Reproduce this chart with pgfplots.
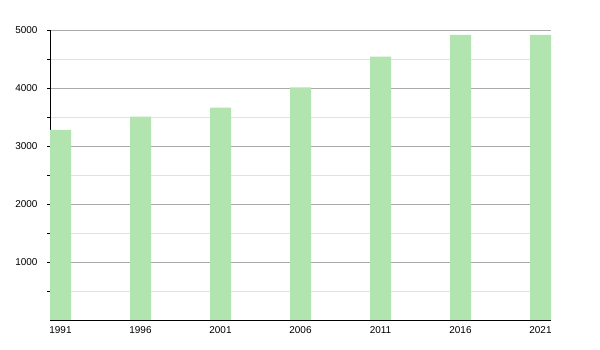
\documentclass[border=0pt]{standalone}
\usepackage{fontspec}
\setmainfont{Liberation Sans}
\usepackage{pgfplots}
\pgfplotsset{compat=1.18}
\definecolor{bargreen}{RGB}{178,228,176}
\definecolor{majgrid}{RGB}{170,170,170}
\definecolor{mingrid}{RGB}{226,226,226}
\begin{document}
\begin{tikzpicture}
\path[use as bounding box] (0,0) rectangle (600bp,350bp);
\begin{axis}[
  at={(50bp,30bp)}, anchor=south west,
  scale only axis, width=501bp, height=290bp,
  xmin=-0.13125, xmax=6.13125, ymin=0, ymax=5000,
  axis x line=bottom, axis y line=left,
  axis line style={-, black, line width=0.9bp},
  xtick={0,1,2,3,4,5,6},
  xticklabels={1991,1996,2001,2006,2011,2016,2021},
  major x tick style={draw=none},
  ytick={1000,2000,3000,4000,5000},
  minor ytick={500,1500,2500,3500,4500},
  scaled y ticks=false,
  /pgf/number format/1000 sep={},
  /pgf/number format/assume math mode=true,
  tick align=outside,
  major tick length=3bp, minor tick length=2.5bp,
  tick style={black, line width=0.8bp},
  ymajorgrids, yminorgrids,
  major grid style={majgrid, line width=0.8bp},
  minor grid style={mingrid, line width=0.8bp},
  ticklabel style={font=\fontsize{10}{12}\selectfont},
  yticklabel style={xshift=-6bp},
  ybar, bar width=21bp,
]
\addplot[fill=bargreen, draw=none] coordinates {
  (0,3276) (1,3505) (2,3660) (3,4010) (4,4540) (5,4914) (6,4914)
};
\end{axis}
\end{tikzpicture}
\end{document}
